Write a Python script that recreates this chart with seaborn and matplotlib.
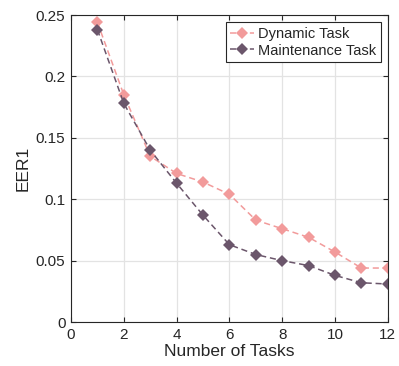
import numpy as np
import pandas as pd
import matplotlib
matplotlib.use("Agg")
import matplotlib.pyplot as plt
import seaborn as sns

tasks = [1, 2, 3, 4, 5, 6, 7, 8, 9, 10, 11, 12]
dynamic = [0.244, 0.185, 0.135, 0.121, 0.114, 0.104, 0.083, 0.076, 0.069, 0.057, 0.044, 0.044]
maintenance = [0.238, 0.178, 0.140, 0.113, 0.087, 0.063, 0.055, 0.050, 0.046, 0.038, 0.032, 0.031]
series_names = ["Dynamic Task", "Maintenance Task"]
colors = ["#F29B9B", "#6B566B"]
xticks = [0, 2, 4, 6, 8, 10, 12]
yticks = [0, 0.05, 0.1, 0.15, 0.2, 0.25]
ytick_labels = ["0", "0.05", "0.1", "0.15", "0.2", "0.25"]

df = pd.DataFrame({
    "Number of Tasks": tasks * 2,
    "EER1": dynamic + maintenance,
    "Task": [series_names[0]] * len(tasks) + [series_names[1]] * len(tasks),
})

sns.set_theme(style="whitegrid")
plt.rcParams["font.family"] = ["Liberation Sans", "DejaVu Sans"]

fig = plt.figure(figsize=(3.99, 3.66), dpi=100)
ax = fig.add_axes([0.178, 0.12, 0.794, 0.839])

sns.lineplot(data=df, x="Number of Tasks", y="EER1", hue="Task",
             palette=colors, marker="D", markersize=6.5, markeredgewidth=0,
             linewidth=1.1, ax=ax)
for line in ax.lines:
    line.set_linestyle((0, (4, 2.5)))

ax.set_xlim(0, 12)
ax.set_ylim(0, 0.25)
ax.set_xticks(xticks)
ax.set_yticks(yticks)
ax.set_yticklabels(ytick_labels)
ax.grid(True, color="#E3E3E3", linewidth=0.9)
ax.set_axisbelow(True)
for s in ax.spines.values():
    s.set_visible(True)
    s.set_color("#262626")
    s.set_linewidth(0.8)
ax.tick_params(which="major", direction="in", length=3.5, width=0.8, color="#262626",
               labelsize=11, labelcolor="#262626", top=True, right=True,
               bottom=True, left=True, pad=4)
ax.set_xlabel("Number of Tasks", fontsize=12.5, color="#262626", labelpad=2)
ax.set_ylabel("EER1", fontsize=12.5, color="#262626", labelpad=4)

handles, labels = ax.get_legend_handles_labels()
for h in handles:
    h.set_linestyle((0, (4, 2.5)))
leg = ax.legend(handles, labels, loc="upper right", fontsize=10.5,
                frameon=True, fancybox=False, framealpha=1, edgecolor="#262626",
                borderpad=0.3, labelspacing=0.2, handlelength=1.6,
                handletextpad=0.3, borderaxespad=0.5)
leg.get_frame().set_linewidth(0.8)

fig.savefig("out.png", dpi=100)
